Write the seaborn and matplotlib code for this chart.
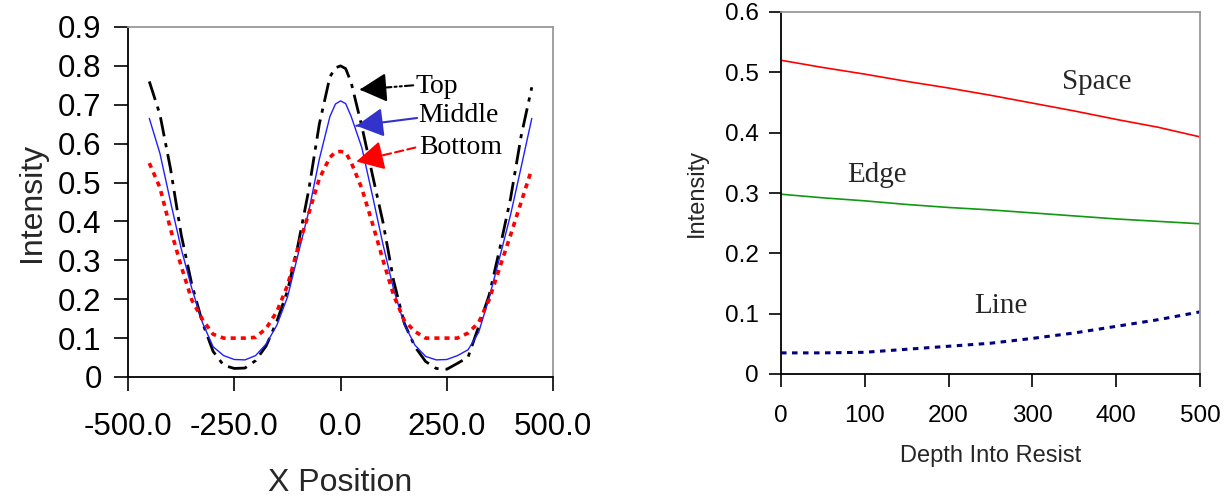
import matplotlib
matplotlib.use("Agg")
import matplotlib.pyplot as plt
import seaborn as sns
import numpy as np
import pandas as pd

# ---------------- data: left chart (aerial image across the pattern) ----------------
x_pos = [-450, -425, -400, -375, -350, -325, -300, -275, -250, -225, -200, -175, -150,
         -125, -100, -75, -50, -25, -12, 0, 12, 25, 50, 75, 100, 125, 150, 175, 200, 225, 250,
         275, 300, 325, 350, 375, 400, 425, 450]
top_int = [0.76, 0.675, 0.535, 0.366, 0.238, 0.14, 0.066, 0.03, 0.022, 0.023, 0.042, 0.08,
           0.143, 0.221, 0.34, 0.48, 0.65, 0.772, 0.795, 0.80, 0.793, 0.757, 0.645, 0.52, 0.397,
           0.247, 0.138, 0.078, 0.04, 0.022, 0.02, 0.035, 0.051, 0.13, 0.212, 0.332, 0.459,
           0.62, 0.745]
middle_int = [0.665, 0.575, 0.45, 0.33, 0.228, 0.14, 0.078, 0.055, 0.045, 0.044, 0.055, 0.085,
              0.133, 0.205, 0.315, 0.425, 0.56, 0.67, 0.702, 0.71, 0.703, 0.67, 0.59, 0.467,
              0.34, 0.225, 0.135, 0.082, 0.053, 0.044, 0.045, 0.055, 0.07, 0.115, 0.205, 0.31,
              0.417, 0.54, 0.665]
bottom_int = [0.55, 0.487, 0.38, 0.285, 0.198, 0.148, 0.11, 0.1, 0.1, 0.1, 0.102, 0.125,
              0.168, 0.235, 0.333, 0.42, 0.51, 0.565, 0.578, 0.58, 0.577, 0.552, 0.485, 0.395,
              0.3, 0.21, 0.145, 0.117, 0.1, 0.1, 0.1, 0.1, 0.113, 0.14, 0.2, 0.283, 0.365,
              0.45, 0.535]
left_series = ["Top", "Middle", "Bottom"]
left_xticks = [-500, -250, 0, 250, 500]
left_xticklabels = ["-500.0", "-250.0", "0.0", "250.0", "500.0"]
left_yticks = [0, 0.1, 0.2, 0.3, 0.4, 0.5, 0.6, 0.7, 0.8, 0.9]
left_yticklabels = ["0", "0.1", "0.2", "0.3", "0.4", "0.5", "0.6", "0.7", "0.8", "0.9"]

# ---------------- data: right chart (intensity vs depth) ----------------
depth = [0, 50, 100, 150, 200, 250, 300, 350, 400, 450, 500]
space_int = [0.52, 0.508, 0.497, 0.485, 0.474, 0.462, 0.449, 0.436, 0.422, 0.409, 0.393]
edge_int = [0.298, 0.292, 0.287, 0.281, 0.276, 0.272, 0.267, 0.262, 0.257, 0.253, 0.249]
line_int = [0.035, 0.035, 0.036, 0.041, 0.046, 0.051, 0.059, 0.068, 0.079, 0.09, 0.103]
right_series = ["Space", "Edge", "Line"]
right_xticks = [0, 100, 200, 300, 400, 500]
right_yticks = [0, 0.1, 0.2, 0.3, 0.4, 0.5, 0.6]
right_yticklabels = ["0", "0.1", "0.2", "0.3", "0.4", "0.5", "0.6"]

# ---------------- styling ----------------
sns.set_theme(style="white")
plt.rcParams["font.family"] = ["Liberation Sans", "DejaVu Sans"]
plt.rcParams["axes.unicode_minus"] = False
SERIF = ["Liberation Serif", "DejaVu Serif"]

fig = plt.figure(figsize=(12.29, 5), dpi=100)
ax1 = fig.add_axes([0.1042, 0.246, 0.3458, 0.700])
ax2 = fig.add_axes([0.6355, 0.252, 0.3409, 0.724])

# left chart
df_left = pd.DataFrame({"x": x_pos * 3,
                        "y": top_int + middle_int + bottom_int,
                        "s": np.repeat(left_series, len(x_pos))})
left_colors = {"Top": "#000000", "Middle": "#1f1fff", "Bottom": "#ff0000"}
left_dash = {"Top": (7, 2.5, 1.5, 2.5), "Middle": "", "Bottom": (1.4, 1.4)}
left_lw = {"Top": 2.0, "Middle": 1.0, "Bottom": 2.6}
for name in left_series:
    d = df_left[df_left.s == name]
    sns.lineplot(data=d, x="x", y="y", ax=ax1, color=left_colors[name],
                 linewidth=left_lw[name], sort=False, legend=False)
    ln = ax1.lines[-1]
    if left_dash[name]:
        ln.set_dashes(left_dash[name])

ax1.set_xlim(-500, 500)
ax1.set_ylim(0, 0.9)
ax1.set_xticks(left_xticks)
ax1.set_xticklabels(left_xticklabels)
ax1.set_yticks(left_yticks)
ax1.set_yticklabels(left_yticklabels)
ax1.tick_params(axis="x", direction="out", length=10, width=1.2, pad=15, labelsize=22.5,
                bottom=True, colors="black")
ax1.tick_params(axis="y", direction="out", length=10, width=1.2, pad=9, labelsize=22.5,
                left=True, colors="black")
ax1.set_xlabel("X Position", fontsize=23, labelpad=19)
ax1.set_ylabel("Intensity", fontsize=23, labelpad=8)

# annotations with arrows (left): dashed shaft + solid filled head
ann = [("Top", 176, 0.747, 45, 0.739, 171, 0.75, "#000000", (4, 1.5, 1, 1.5, 1, 1.5)),
       ("Middle", 183, 0.672, 37, 0.646, 180, 0.666, "#3333cc", None),
       ("Bottom", 185, 0.589, 37, 0.554, 176, 0.59, "#ff0000", (4, 2))]
for txt, tx, ty, hx, hy, sx, sy, col, ls in ann:
    ax1.text(tx, ty, txt, family=SERIF, fontsize=20, va="center", ha="left", color="black")
    shaft = dict(arrowstyle="-", color=col, lw=1.5, shrinkA=0, shrinkB=0)
    if ls is not None:
        shaft["linestyle"] = (0, ls)
    ax1.annotate("", xy=(hx, hy), xytext=(sx, sy), xycoords="data", arrowprops=shaft)
    # short solid segment near the tip carrying the head
    fx = hx + (sx - hx) * 0.25
    fy = hy + (sy - hy) * 0.25
    head = dict(arrowstyle="-|>,head_length=0.6,head_width=0.32", color=col, lw=1.5,
                shrinkA=0, shrinkB=0, mutation_scale=28)
    ax1.annotate("", xy=(hx, hy), xytext=(fx, fy), xycoords="data", arrowprops=head)

# right chart
df_right = pd.DataFrame({"x": depth * 3,
                         "y": space_int + edge_int + line_int,
                         "s": np.repeat(right_series, len(depth))})
right_colors = {"Space": "#ff0000", "Edge": "#119911", "Line": "#000080"}
right_lw = {"Space": 1.2, "Edge": 1.2, "Line": 2.2}
for name in right_series:
    d = df_right[df_right.s == name]
    sns.lineplot(data=d, x="x", y="y", ax=ax2, color=right_colors[name],
                 linewidth=right_lw[name], sort=False, legend=False)
    if name == "Line":
        ax2.lines[-1].set_dashes((1.8, 1.8))

ax2.set_xlim(0, 500)
ax2.set_ylim(0, 0.6)
ax2.set_xticks(right_xticks)
ax2.set_xticklabels([str(v) for v in right_xticks])
ax2.set_yticks(right_yticks)
ax2.set_yticklabels(right_yticklabels)
ax2.tick_params(axis="x", direction="out", length=9, width=1.2, pad=13, labelsize=17.5,
                bottom=True, colors="black")
ax2.tick_params(axis="y", direction="out", length=9, width=1.2, pad=7, labelsize=17.5,
                left=True, colors="black")
ax2.set_xlabel("Depth Into Resist", fontsize=17, labelpad=13)
ax2.set_ylabel("Intensity", fontsize=17, labelpad=12)

ax2.text(335, 0.472, "Space", family=SERIF, fontsize=21, va="baseline", ha="left")
ax2.text(79, 0.319, "Edge", family=SERIF, fontsize=21, va="baseline", ha="left")
ax2.text(231, 0.1007, "Line", family=SERIF, fontsize=21, va="baseline", ha="left")

for ax in (ax1, ax2):
    ax.set_facecolor("white")
    ax.grid(False)
    for side in ("left", "bottom"):
        ax.spines[side].set_color("black")
        ax.spines[side].set_linewidth(1.3)
    for side in ("top", "right"):
        ax.spines[side].set_color("#999999")
        ax.spines[side].set_linewidth(1.3)
        ax.spines[side].set_visible(True)

fig.savefig("out.png", dpi=100, facecolor="white")
